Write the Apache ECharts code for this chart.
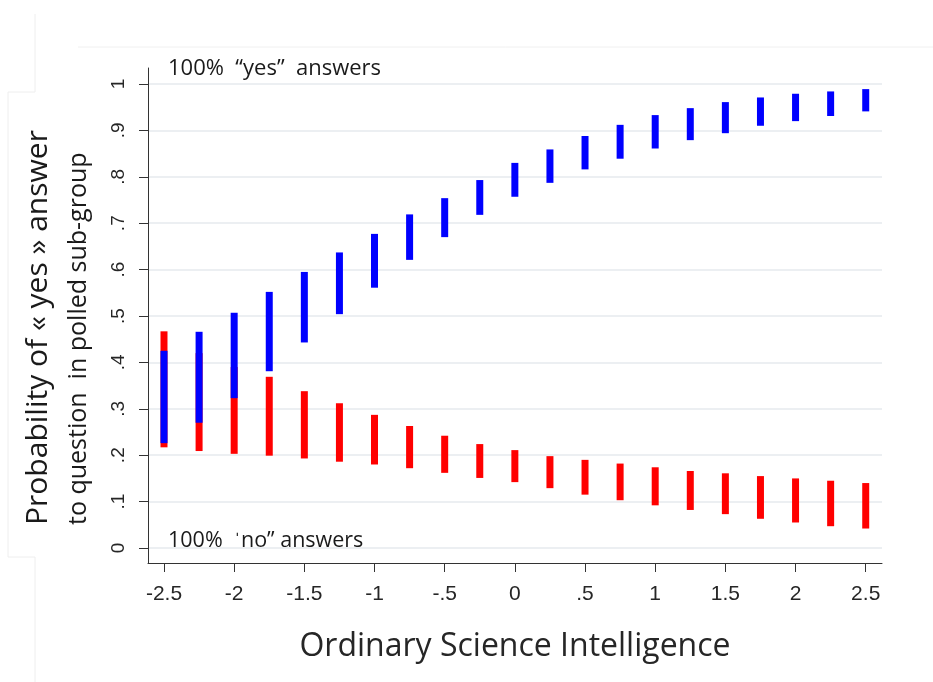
<!DOCTYPE html>
<html><head><meta charset="utf-8">
<script src="https://cdn.jsdelivr.net/npm/echarts@6/dist/echarts.min.js"></script>
<style>html,body{margin:0;padding:0;background:#fff}#c{width:933px;height:682px}</style>
</head><body><div id="c"></div>
<script>
// ---- data ----
const xValues = [-2.5,-2.25,-2,-1.75,-1.5,-1.25,-1,-0.75,-0.5,-0.25,0,0.25,0.5,0.75,1,1.25,1.5,1.75,2,2.25,2.5];
const yesLow  = [0.226,0.270,0.323,0.381,0.443,0.504,0.561,0.621,0.670,0.718,0.757,0.787,0.816,0.839,0.861,0.879,0.894,0.910,0.920,0.931,0.941];
const yesHigh = [0.425,0.466,0.507,0.552,0.595,0.637,0.677,0.719,0.754,0.793,0.830,0.859,0.888,0.912,0.933,0.948,0.961,0.971,0.979,0.984,0.989];
const noLow   = [0.217,0.209,0.203,0.199,0.193,0.186,0.180,0.172,0.162,0.151,0.142,0.129,0.115,0.103,0.092,0.082,0.073,0.063,0.055,0.047,0.042];
const noHigh  = [0.467,0.420,0.390,0.369,0.338,0.312,0.287,0.263,0.242,0.224,0.211,0.198,0.190,0.182,0.174,0.166,0.161,0.155,0.150,0.145,0.140];
const xTicks = [-2.5,-2,-1.5,-1,-0.5,0,0.5,1,1.5,2,2.5];
const xTickLabels = ['-2.5','-2','-1.5','-1','-.5','0','.5','1','1.5','2','2.5'];
const yTicks = [0,0.1,0.2,0.3,0.4,0.5,0.6,0.7,0.8,0.9,1];
const yTickLabels = ['0','.1','.2','.3','.4','.5','.6','.7','.8','.9','1'];
const xTitle = 'Ordinary Science Intelligence';
const yTitle1 = 'Probability of « yes » answer';
const yTitle2 = 'to question  in polled sub-group';
const noteTop = '100%  “yes”  answers';
const noteBottom = '100%  ˈno” answers';

function lookup(ticks, labels, v){
  for (let i=0;i<ticks.length;i++) if (Math.abs(ticks[i]-v)<1e-9) return labels[i];
  return '';
}
function bars(lo, hi, color, name){
  return {
    type:'custom', name, z: name==='yes'?3:2,
    data: xValues.map((x,i)=>[x, lo[i], hi[i]]),
    encode:{x:0, y:[1,2]},
    renderItem(params, api){
      const a = api.coord([api.value(0), api.value(1)]);
      const b = api.coord([api.value(0), api.value(2)]);
      const w = 7;
      return {type:'rect', shape:{x:a[0]-w/2, y:b[1], width:w, height:a[1]-b[1]}, style:{fill:color}};
    }
  };
}
const chart = echarts.init(document.getElementById('c'));
const tickFont = {fontFamily:'Liberation Sans', color:'#262626'};
const titleFont = 'Open Sans';
chart.setOption({
  animation:false,
  backgroundColor:'#fff',
  grid:{left:148, right:51, top:68, bottom:119, containLabel:false},
  xAxis:{
    type:'value', min:-2.614, max:2.616,
    axisLine:{onZero:false, lineStyle:{color:'#333', width:1}},
    axisTick:{show:true, length:9, lineStyle:{color:'#333'}, customValues:xTicks},
    axisLabel:{customValues:xTicks, margin:21, fontSize:21, ...tickFont,
      formatter:v=>lookup(xTicks,xTickLabels,v)},
    splitLine:{show:false},
    name:xTitle, nameLocation:'middle', nameGap:68,
    nameTextStyle:{fontFamily:titleFont, fontSize:32, color:'#262626'}
  },
  yAxis:{
    type:'value', min:-0.0323, max:1.0345,
    axisLine:{show:true, onZero:false, lineStyle:{color:'#333', width:1}},
    axisTick:{show:true, length:9, lineStyle:{color:'#333'}, customValues:yTicks},
    axisLabel:{customValues:yTicks, margin:20, rotate:90, fontSize:19, ...tickFont,
      formatter:v=>lookup(yTicks,yTickLabels,v)},
    splitLine:{show:true, lineStyle:{color:'#e6eaee', width:1.5}}
  },
  series:[bars(noLow,noHigh,'#ff0000','no'), bars(yesLow,yesHigh,'#0000ff','yes')],
  graphic:[
    {type:'text', x:38, y:525, rotation:Math.PI/2, style:{text:yTitle1, fontFamily:titleFont, fontSize:30, fill:'#1a1a1a', align:'left', verticalAlign:'middle'}},
    {type:'text', x:79, y:525, rotation:Math.PI/2, style:{text:yTitle2, fontFamily:titleFont, fontSize:25, fill:'#1a1a1a', align:'left', verticalAlign:'middle'}},
    {type:'text', x:168, y:69, style:{text:noteTop, fontFamily:titleFont, fontSize:22, fill:'#1a1a1a', align:'left', verticalAlign:'middle'}},
    {type:'text', x:168, y:541, style:{text:noteBottom, fontFamily:titleFont, fontSize:21.5, fill:'#1a1a1a', align:'left', verticalAlign:'middle'}},
    {type:'polyline', shape:{points:[[35,14],[35,92],[8,92],[8,557],[35,557],[35,682]]}, style:{stroke:'#eeeeee', fill:null, lineWidth:1}},
    {type:'line', shape:{x1:78,y1:47,x2:933,y2:47}, style:{stroke:'#f0f0f0', lineWidth:1}}
  ]
});
</script></body></html>
